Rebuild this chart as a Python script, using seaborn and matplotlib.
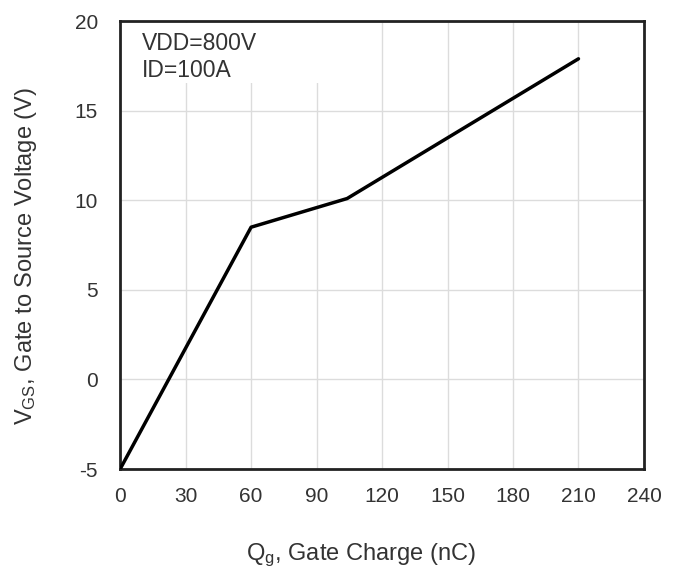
import pandas as pd
import seaborn as sns
import matplotlib.pyplot as plt
from matplotlib.patches import Rectangle

# gate charge curve
qg = [0, 60, 104, 210]
vgs = [-5, 8.5, 10.1, 17.9]
xticks = [0, 30, 60, 90, 120, 150, 180, 210, 240]
yticks = [-5, 0, 5, 10, 15, 20]

data = pd.DataFrame({'Qg': qg, 'VGS': vgs})

sns.set_style('white')
plt.rcParams['font.family'] = ['Liberation Sans', 'DejaVu Sans']
plt.rcParams['mathtext.fontset'] = 'custom'
plt.rcParams['mathtext.rm'] = 'Liberation Sans'
plt.rcParams['mathtext.it'] = 'Liberation Sans'
plt.rcParams['axes.unicode_minus'] = False

fig = plt.figure(figsize=(6.75, 5.72), dpi=100)
ax = fig.add_axes([0.178, 0.180, 0.776, 0.783])

sns.lineplot(data=data, x='Qg', y='VGS', color='black', linewidth=2.5, ax=ax, zorder=3)

ax.set_xlim(0, 240)
ax.set_ylim(-5, 20)
ax.set_xticks(xticks)
ax.set_yticks(yticks)
ax.grid(True, color='#dcdcdc', linewidth=1)
ax.set_axisbelow(True)
ax.tick_params(axis='x', length=0, labelsize=15, colors='#333333', pad=13)
ax.tick_params(axis='y', length=0, labelsize=15, colors='#333333', pad=16)

for s in ax.spines.values():
    s.set_color('#222222')
    s.set_linewidth(2)

ax.set_xlabel(r'Q$_{\mathrm{g}}$, Gate Charge (nC)', fontsize=17, color='#333333')
ax.set_ylabel(r'V$_{\mathrm{GS}}$, Gate to Source Voltage (V)', fontsize=17, color='#333333')
ax.xaxis.set_label_coords(0.46, -0.163)
ax.yaxis.set_label_coords(-0.155, 0.475)

# white box behind the annotation hides the grid there
ax.add_patch(Rectangle((0.004, 0.862), 0.41, 0.134, transform=ax.transAxes,
                       facecolor='white', edgecolor='none', zorder=1))
ax.text(0.042, 0.975, 'VDD=800V\nID=100A', transform=ax.transAxes, fontsize=16.5,
        color='#333333', va='top', ha='left', linespacing=1.2, zorder=4)

plt.savefig('out.png', dpi=100)
